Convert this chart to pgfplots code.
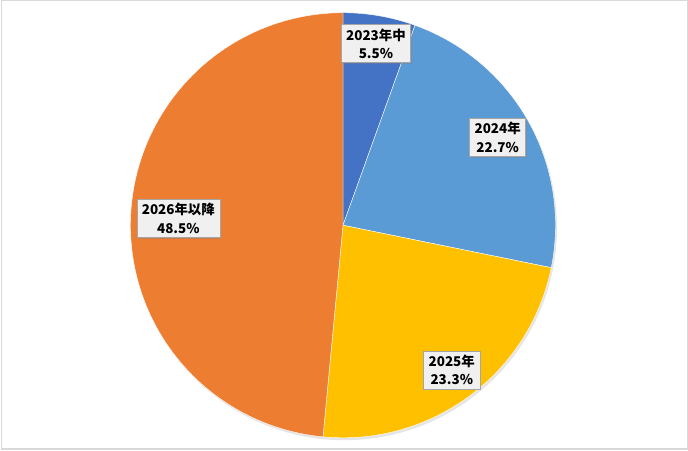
\documentclass[border=0pt]{standalone}
\usepackage{fontspec}
\setmainfont{Noto Sans CJK JP}
\usepackage{pgfplots}
\pgfplotsset{compat=1.18}
\usetikzlibrary{shadows}

\definecolor{c2023}{RGB}{68,114,196}
\definecolor{c2024}{RGB}{91,155,213}
\definecolor{c2025}{RGB}{255,192,0}
\definecolor{c2026}{RGB}{237,125,49}
\definecolor{frame}{RGB}{217,217,217}
\definecolor{boxfill}{RGB}{240,240,240}
\definecolor{boxline}{RGB}{165,165,165}

% shares in percent
\def\pA{5.5}
\def\pB{22.7}
\def\pC{23.3}
\def\pD{48.5}
\def\R{213}

\pgfmathsetmacro{\aA}{90}
\pgfmathsetmacro{\aB}{\aA-3.6*\pA}
\pgfmathsetmacro{\aC}{\aB-3.6*\pB}
\pgfmathsetmacro{\aD}{\aC-3.6*\pC}
\pgfmathsetmacro{\aE}{\aD-3.6*\pD}

\tikzset{lbl/.style={draw=boxline, fill=boxfill, line width=0.5pt,
    drop shadow={shadow xshift=1.3pt, shadow yshift=-1.3pt, opacity=0.35},
    align=center, inner xsep=5pt, inner ysep=4pt,
    font=\fontsize{13.5}{18.5}\selectfont\bfseries}}

\begin{document}
\begin{tikzpicture}
\begin{axis}[
    width=688bp, height=450bp,
    scale only axis,
    hide axis,
    xmin=-343, xmax=345,
    ymin=-225, ymax=225,
    clip=false,
]
\addplot[draw=none, fill=black, opacity=0.10, data cs=polar,
    domain=0:360, samples=120, shift={(1.5pt,-2.5pt)}] (x,\R) -- cycle;
\addplot[fill=c2023, draw=white, line width=0.4pt, data cs=polar,
    domain=\aB:\aA, samples=20] (x,\R) -- (axis cs:0,0) -- cycle;
\addplot[fill=c2024, draw=white, line width=0.4pt, data cs=polar,
    domain=\aC:\aB, samples=60] (x,\R) -- (axis cs:0,0) -- cycle;
\addplot[fill=c2025, draw=white, line width=0.4pt, data cs=polar,
    domain=\aD:\aC, samples=60] (x,\R) -- (axis cs:0,0) -- cycle;
\addplot[fill=c2026, draw=white, line width=0.4pt, data cs=polar,
    domain=\aE:\aD, samples=120] (x,\R) -- (axis cs:0,0) -- cycle;

\node[lbl] at (axis cs:33,182) {2023年中\\5.5\%};
\node[lbl] at (axis cs:155,88) {2024年\\22.7\%};
\node[lbl] at (axis cs:109,-145) {2025年\\23.3\%};
\node[lbl] at (axis cs:-165,7) {2026年以降\\48.5\%};

\draw[frame, line width=1.5pt] (rel axis cs:0,0) ++(0.75pt,0.75pt)
    rectangle (rel axis cs:1,1) ++(-0.75pt,-0.75pt);
\end{axis}
\end{tikzpicture}
\end{document}
